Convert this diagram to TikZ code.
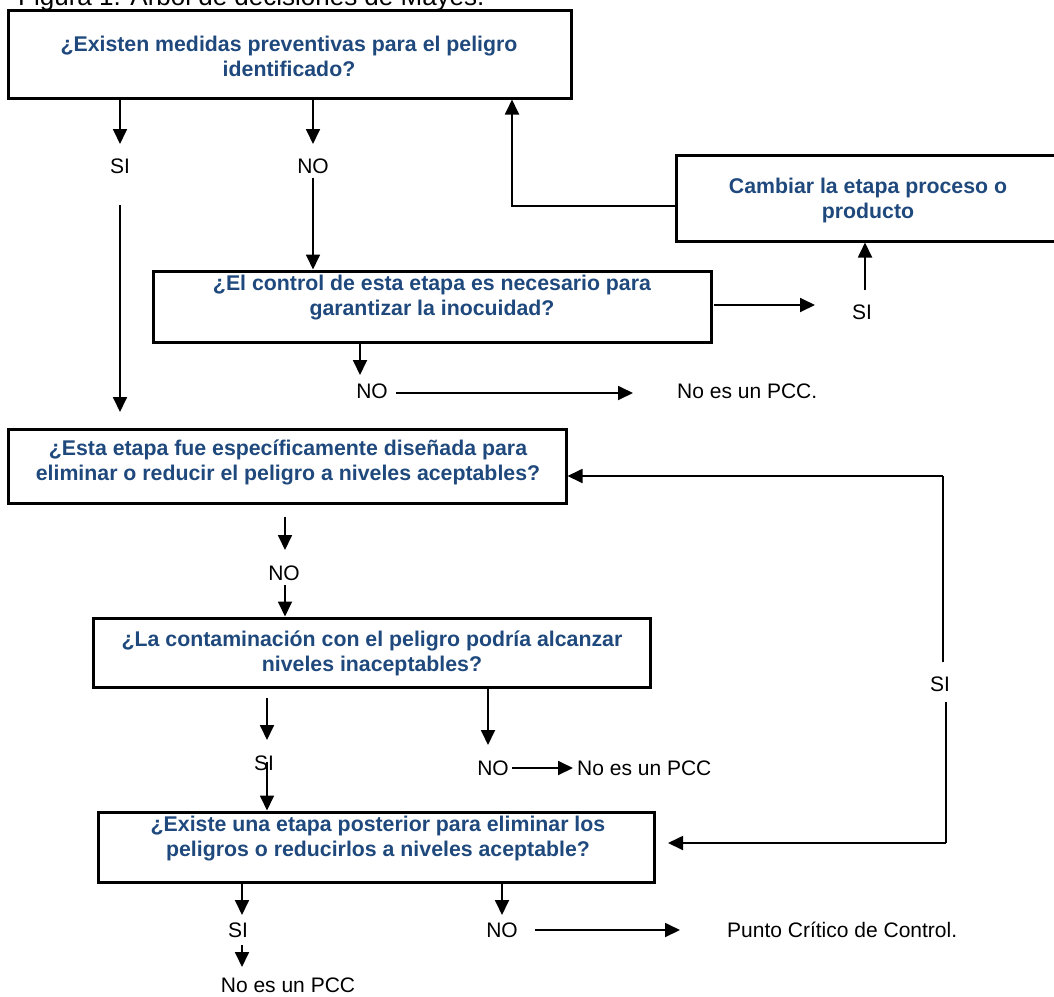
\documentclass[tikz,border=0pt]{standalone}
\usepackage{fontspec}
\setmainfont{Liberation Sans}
\usetikzlibrary{arrows.meta}
\definecolor{qblue}{HTML}{1F497D}
\begin{document}
\begin{tikzpicture}[x=1pt,y=-1pt,
  qbox/.style={draw, line width=3pt, rectangle, inner sep=0pt},
  qtext/.style={text=qblue, font=\fontsize{21.3}{25}\selectfont\bfseries, align=center, inner sep=0pt},
  lbl/.style={font=\fontsize{21}{24}\selectfont, inner sep=0pt},
  conn/.style={line width=1.8pt},
  arr/.style={conn, -{Triangle[length=15pt,width=14pt]}}]
\useasboundingbox (0,0) rectangle (1054,996);

% title (partly cut off at the top, as in the reference)
\node[lbl, font=\fontsize{26}{30}\selectfont, anchor=base west] (title) at (18,5) {Figura 1. Árbol de decisiones de Mayes.};

% boxes
\node[qbox, minimum width=563pt, minimum height=88pt] (q1) at (289.5,54) {};
\node[qtext] (q1t) at (289,56) {¿Existen medidas preventivas para el peligro\\identificado?};

\node[qbox, minimum width=558pt, minimum height=71pt] (q2) at (432,306.5) {};
\node[qtext] (q2t) at (432,298) {¿El control de esta etapa es necesario para\\garantizar la inocuidad?};

\node[qbox, minimum width=390pt, minimum height=86pt] (cb) at (871,198) {};
\node[qtext] (cbt) at (868,200) {Cambiar la etapa proceso o\\producto};

\node[qbox, minimum width=558pt, minimum height=74pt] (q3) at (287,466) {};
\node[qtext] (q3t) at (288,462) {¿Esta etapa fue específicamente diseñada para\\eliminar o reducir el peligro a niveles aceptables?};

\node[qbox, minimum width=557pt, minimum height=69pt] (q4) at (371.5,652.5) {};
\node[qtext] (q4t) at (372,653) {¿La contaminación con el peligro podría alcanzar\\niveles inaceptables?};

\node[qbox, minimum width=556pt, minimum height=70pt] (q5) at (376,847) {};
\node[qtext] (q5t) at (378,839) {¿Existe una etapa posterior para eliminar los\\peligros o reducirlos a niveles aceptable?};

% labels
\node[lbl] (si1) at (120,166) {SI};
\node[lbl] (no1) at (313,166) {NO};
\node[lbl] (si2) at (862,312) {SI};
\node[lbl] (no2) at (372,391) {NO};
\node[lbl, anchor=west] (pcc1) at (677,391) {No es un PCC.};
\node[lbl] (no3) at (284,573) {NO};
\node[lbl] (si3) at (264,763) {SI};
\node[lbl] (no4) at (493,768) {NO};
\node[lbl, anchor=west] (pcc2) at (577,768) {No es un PCC};
\node[lbl] (si5) at (940,684) {SI};
\node[lbl] (si4) at (238,930) {SI};
\node[lbl] (no5) at (502,930) {NO};
\node[lbl, anchor=west] (pcc4) at (727,930) {Punto Crítico de Control.};
\node[lbl] (pcc3) at (288,985) {No es un PCC};

% connector points
\coordinate (a1) at (120,144);
\coordinate (a2) at (120,205);
\coordinate (a3) at (120,412);
\coordinate (b1) at (313,144);
\coordinate (b2) at (313,178);
\coordinate (c1) at (512,206);
\coordinate (d1) at (714,305);
\coordinate (d2) at (815,305);
\coordinate (d3) at (865,290);
\coordinate (e1) at (360,375);
\coordinate (e2) at (396,393);
\coordinate (e3) at (633,393);
\coordinate (f1) at (285,515);
\coordinate (f2) at (285,550);
\coordinate (f3) at (285,585);
\coordinate (g1) at (267,698);
\coordinate (g2) at (267,740);
\coordinate (g3) at (267,762);
\coordinate (h1) at (488,745);
\coordinate (h2) at (512,768);
\coordinate (h3) at (573,768);
\coordinate (k1) at (943,476);
\coordinate (k2) at (943,662);
\coordinate (k3) at (946,702);
\coordinate (k4) at (946,843);
\coordinate (k5) at (668,843);
\coordinate (m1) at (242,915);
\coordinate (m2) at (242,945);
\coordinate (m3) at (242,967);
\coordinate (n1) at (502,915);
\coordinate (n2) at (535,930);
\coordinate (n3) at (680,930);

% connectors
\draw[arr] (q1.south -| a1) -- (a1);
\draw[arr] (a2) -- (a3);
\draw[arr] (q1.south -| b1) -- (b1);
\draw[arr] (b2) -- (q2.north -| b2);
\draw[arr] ([yshift=-8pt]cb.west) -| (q1.south -| c1);
\draw[arr] (d1) -- (d2);
\draw[arr] (d3) -- (cb.south -| d3);
\draw[arr] (q2.south -| e1) -- (e1);
\draw[arr] (e2) -- (e3);
\draw[arr] (q3.south -| f1) ++(0,12) -- (f2);
\draw[arr] (f3) -- (q4.north -| f3);
\draw[arr] (g1) -- (g2);
\draw[arr] (g3) -- (q5.north -| g3);
\draw[arr] (q4.south -| h1) -- (h1);
\draw[arr] (h2) -- (h3);
\draw[conn] (k2) -- (k1);
\draw[arr] (k1) -- (q3.east |- k1);
\draw[conn] (k3) -- (k4);
\draw[arr] (k4) -- (k5);
\draw[arr] (q5.south -| m1) -- (m1);
\draw[arr] (m2) -- (m3);
\draw[arr] (q5.south -| n1) -- (n1);
\draw[arr] (n2) -- (n3);
\end{tikzpicture}
\end{document}
